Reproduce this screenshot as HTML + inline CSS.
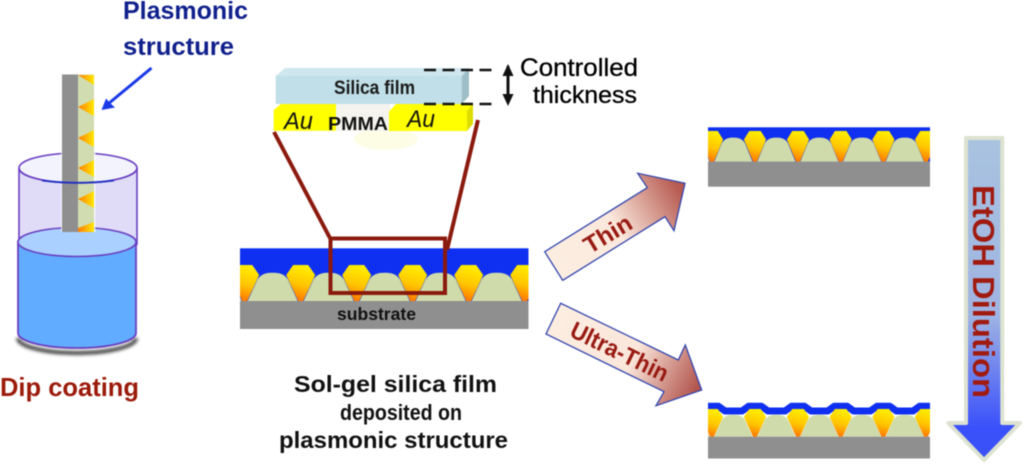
<!DOCTYPE html>
<html><head><meta charset="utf-8"><style>
html,body{margin:0;padding:0;background:#fff;width:1024px;height:468px;overflow:hidden}
svg{display:block;filter:blur(.5px)}
text{font-family:"Liberation Sans",sans-serif}
</style></head><body>
<svg width="1024" height="468" viewBox="0 0 1024 468" xmlns="http://www.w3.org/2000/svg">
<defs>
<linearGradient id="gold" x1=".6" y1="0" x2=".4" y2="1"><stop offset="0" stop-color="#fff000"/><stop offset=".55" stop-color="#ffc400"/><stop offset="1" stop-color="#ff7400"/></linearGradient>
<linearGradient id="tri" x1="0" y1="0" x2="1" y2="0"><stop offset="0" stop-color="#ff7c00"/><stop offset="1" stop-color="#ffe800"/></linearGradient>
<linearGradient id="thin" gradientUnits="userSpaceOnUse" x1="553" y1="266" x2="680" y2="190"><stop offset="0" stop-color="#fdeee2"/><stop offset=".5" stop-color="#fbe8dc"/><stop offset="1" stop-color="#b75a50"/></linearGradient>
<linearGradient id="ultra" gradientUnits="userSpaceOnUse" x1="553" y1="318" x2="698" y2="390"><stop offset="0" stop-color="#fdeee2"/><stop offset=".55" stop-color="#fbe6da"/><stop offset="1" stop-color="#b0524a"/></linearGradient>
<linearGradient id="eth" x1="0" y1="0" x2="0" y2="1"><stop offset="0" stop-color="#a9c3e0"/><stop offset=".55" stop-color="#9fb4e2"/><stop offset=".9" stop-color="#3a50fb"/><stop offset="1" stop-color="#3a50f5"/></linearGradient>
<filter id="b2" x="-20%" y="-100%" width="140%" height="300%"><feGaussianBlur stdDeviation="1.500"/></filter>
<clipPath id="c1"><rect x="240" y="240" width="288.500" height="70"/></clipPath>
<clipPath id="c2"><rect x="708" y="120" width="222" height="50"/></clipPath>
<clipPath id="c3"><rect x="708" y="395" width="222" height="50"/></clipPath>
<polygon id="g" points="-7.500,0 7.500,0 14.500,10 2.500,36 -2.500,36 -14.500,10" fill="url(#gold)"/>
<path id="p" d="M3 36 L13 14 C17 8.500 22 7.700 28 7.700 C34 7.700 39 8.500 43 14 L53 36Z" fill="#cfdbab"/>
<g id="cell"><use href="#p"/><use href="#g"/></g>
</defs>

<!-- Dip coating beaker -->
<path d="M19 168 V319 H137 V168 Z" fill="#e0dcf8"/>
<ellipse cx="78" cy="168" rx="59" ry="15" fill="#f3f3fe" stroke="#6a3fc0" stroke-width="1.600"/>
<path d="M19 168 V245 M137 168 V245" stroke="#6a3fc0" stroke-width="1.600" fill="none"/>
<path d="M18 335 A59 15 0 0 0 136 335" fill="none" stroke="#444" stroke-width="4" filter="url(#b2)" transform="translate(0,3)"/>
<path d="M18 241.500 V333 A59 15 0 0 0 136 333 V241.500 Z" fill="#62acff" stroke="#6a3fc0" stroke-width="1.800"/>
<ellipse cx="77" cy="242" rx="59" ry="14.500" fill="#a9d0ff" stroke="#6a3fc0" stroke-width="1.600"/>

<rect x="61" y="74" width="34.500" height="158" fill="#fff" opacity=".7"/>
<rect x="62" y="74.500" width="16" height="157.500" fill="#8f8f8f"/>
<rect x="78" y="74.500" width="16" height="157.500" fill="#d1dcb0"/>
<polygon points="78,75 94,75 94,85" fill="url(#tri)"/>
<polygon points="78,107 94,99 94,116" fill="url(#tri)"/>
<polygon points="78,138 94,130 94,147" fill="url(#tri)"/>
<polygon points="78,168 94,160 94,177" fill="url(#tri)"/>
<polygon points="78,199 94,191 94,208" fill="url(#tri)"/>
<polygon points="78,228 94,222 94,232 78,232" fill="url(#tri)"/>
<path d="M19 168 A59 15 0 0 0 137 168" fill="none" stroke="#6a3fc0" stroke-width="1.600"/>
<path d="M42 180.500 Q78 185 114 180.500" fill="none" stroke="#1c2fc0" stroke-width="1.800"/>

<line x1="151.500" y1="68" x2="108" y2="104" stroke="#1a3ae8" stroke-width="3"/>
<polygon points="101.500,110 106,98.500 110,103 115,107.500" fill="#1a3ae8"/>
<text x="123" y="19" font-size="25" font-weight="bold" fill="#10208c" textLength="125" lengthAdjust="spacingAndGlyphs">Plasmonic</text>
<text x="123" y="55" font-size="25" font-weight="bold" fill="#10208c" textLength="111" lengthAdjust="spacingAndGlyphs">structure</text>
<text x="0" y="396" font-size="26" font-weight="bold" fill="#9b1a0a" textLength="139" lengthAdjust="spacingAndGlyphs">Dip coating</text>

<!-- Zoomed detail -->
<ellipse cx="386" cy="139" rx="32" ry="11" fill="#fdfde6"/>
<polygon points="273.700,110 281,104 336,104 336,130.700 273.700,130.700" fill="#ffff00"/>
<rect x="336" y="104" width="54" height="27" fill="#f4f3ee"/>
<polygon points="389,111.500 396,104 473,104 467,111.500" fill="#ffff00"/>
<rect x="389" y="111" width="78" height="20" fill="#ffff00"/>
<polygon points="467,111 473,104 473,124 467,131" fill="#dcdc00"/>
<polygon points="275.700,76 285,68 469,68 461.700,76" fill="#cfe6ee"/>
<rect x="275.700" y="76" width="186" height="28" fill="#c0dfe8"/>
<polygon points="461.700,76 469,68 469,96 461.700,104" fill="#9fbfc8"/>
<text x="334" y="94" font-size="19" font-weight="bold" fill="#1a1a1a" textLength="81" lengthAdjust="spacingAndGlyphs">Silica film</text>
<text x="284" y="129" font-size="24" font-style="italic" fill="#111" textLength="29" lengthAdjust="spacingAndGlyphs">Au</text>
<text x="407" y="127" font-size="24" font-style="italic" fill="#111" textLength="28" lengthAdjust="spacingAndGlyphs">Au</text>
<text x="328" y="130" font-size="18" font-weight="bold" fill="#111" textLength="60" lengthAdjust="spacingAndGlyphs">PMMA</text>
<path d="M424 70 H498 M424 104 H498" stroke="#111" stroke-width="2.600" stroke-dasharray="12 6.500" fill="none"/>
<line x1="508" y1="66" x2="508" y2="103" stroke="#111" stroke-width="3"/>
<polygon points="508,64 502.500,76 513.500,76" fill="#111"/>
<polygon points="508,106 502.500,94 513.500,94" fill="#111"/>
<text x="520" y="76" font-size="25" stroke="#000" stroke-width=".3" fill="#000" textLength="118" lengthAdjust="spacingAndGlyphs">Controlled</text>
<text x="533" y="103" font-size="24" stroke="#000" stroke-width=".3" fill="#000" textLength="104" lengthAdjust="spacingAndGlyphs">thickness</text>

<!-- Main structure -->
<rect x="240" y="248.300" width="288.500" height="53" fill="#0f30f0"/>
<g clip-path="url(#c1)">
<use href="#cell" transform="translate(188.700,265)"/>
<use href="#cell" transform="translate(244.700,265)"/>
<use href="#cell" transform="translate(300.700,265)"/>
<use href="#cell" transform="translate(356.700,265)"/>
<use href="#cell" transform="translate(412.700,265)"/>
<use href="#cell" transform="translate(468.700,265)"/>
<use href="#g" transform="translate(524.700,265)"/>
</g>
<rect x="240" y="301" width="288.500" height="28" fill="#8f8f8f"/>
<text x="337" y="320" font-size="17.500" font-weight="bold" fill="#111" textLength="79" lengthAdjust="spacingAndGlyphs">substrate</text>

<g fill="none" stroke="#8b1a0e" stroke-width="4">
<line x1="274" y1="132" x2="331" y2="240"/>
<line x1="478" y1="120" x2="447" y2="250"/>
<rect x="330.500" y="238.500" width="114.500" height="54.500"/>
</g>

<text x="294" y="392" font-size="23" font-weight="bold" fill="#111" textLength="203" lengthAdjust="spacingAndGlyphs">Sol-gel silica film</text>
<text x="340" y="420" font-size="22" font-weight="bold" fill="#111" textLength="122" lengthAdjust="spacingAndGlyphs">deposited on</text>
<text x="279" y="448" font-size="23" font-weight="bold" fill="#111" textLength="229" lengthAdjust="spacingAndGlyphs">plasmonic structure</text>

<!-- Thin result -->
<rect x="708" y="127.300" width="222" height="34.500" fill="#0f30f0"/>
<g clip-path="url(#c2)">
<use href="#cell" transform="translate(669.200,131) scale(.764,.853)"/>
<use href="#cell" transform="translate(712,131) scale(.764,.853)"/>
<use href="#cell" transform="translate(755,131) scale(.764,.853)"/>
<use href="#cell" transform="translate(798,131) scale(.764,.853)"/>
<use href="#cell" transform="translate(840.700,131) scale(.764,.853)"/>
<use href="#cell" transform="translate(883.400,131) scale(.764,.853)"/>
<use href="#g" transform="translate(926,131) scale(.764,.853)"/>
</g>
<rect x="708" y="161.700" width="222" height="25" fill="#8f8f8f"/>

<!-- Ultra-thin result -->
<g clip-path="url(#c3)">
<path d="M700 406.300 H718.500 L725 411 H742 L748.500 406.300 H761.500 L768 411 H785 L791.500 406.300 H804.500 L811 411 H827.700 L834.200 406.300 H847.200 L853.700 411 H870.400 L876.900 406.300 H889.900 L896.400 411 H913 L919.500 406.300 H940" fill="none" stroke="#0f30f0" stroke-width="7" stroke-linejoin="round"/>
<use href="#cell" transform="translate(669.200,409) scale(.764,.77)"/>
<use href="#cell" transform="translate(712,409) scale(.764,.77)"/>
<use href="#cell" transform="translate(755,409) scale(.764,.77)"/>
<use href="#cell" transform="translate(798,409) scale(.764,.77)"/>
<use href="#cell" transform="translate(840.700,409) scale(.764,.77)"/>
<use href="#cell" transform="translate(883.400,409) scale(.764,.77)"/>
<use href="#g" transform="translate(926,409) scale(.764,.77)"/>
</g>
<rect x="708" y="436.700" width="222" height="21.800" fill="#8f8f8f"/>

<!-- Arrows -->
<polygon points="544.700,251.700 562.700,280.300 665,216.700 674,230.700 685,183.300 637.700,173.300 647.300,187.700" fill="url(#thin)" stroke="#3346ae" stroke-width="1.300"/>
<text transform="translate(612,241) rotate(-31)" text-anchor="middle" font-size="24" font-weight="bold" fill="#981a12" textLength="52" lengthAdjust="spacingAndGlyphs">Thin</text>
<polygon points="560.700,303.300 546,334 664,391.700 656,405.700 701.700,390 685.300,345 678.300,360" fill="url(#ultra)" stroke="#3346ae" stroke-width="1.300"/>
<text transform="translate(616,359) rotate(26)" text-anchor="middle" font-size="24" font-weight="bold" fill="#981a12" textLength="106" lengthAdjust="spacingAndGlyphs">Ultra-Thin</text>

<polygon points="966,138 1002.300,138 1002.300,423 1020,423 984,460 948.300,423 966,423" fill="url(#eth)" stroke="#dde3d0" stroke-width="4" stroke-linejoin="round"/>
<text transform="translate(973,185) rotate(90)" font-size="31" font-weight="bold" fill="#a01a10" textLength="213" lengthAdjust="spacingAndGlyphs">EtOH Dilution</text>
</svg>
</body></html>
